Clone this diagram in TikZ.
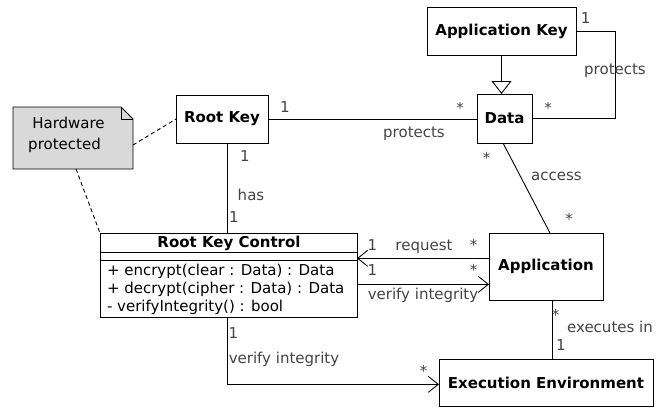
\documentclass[tikz,border=0pt]{standalone}
\usepackage{fontspec}
\setmainfont{DejaVu Sans}
\usetikzlibrary{arrows.meta}
\definecolor{notegray}{HTML}{D9D9D9}
\definecolor{lblcol}{HTML}{444444}
\begin{document}
\begin{tikzpicture}[x=1pt,y=-1pt,
  every node/.style={font=\fontsize{15}{18}\selectfont, inner sep=0pt, outer sep=0pt},
  box/.style={draw, line width=0.9pt, fill=white, font=\fontsize{15}{18}\selectfont\bfseries},
  lbl/.style={anchor=base, text=lblcol},
  ln/.style={line width=0.9pt},
  arr/.style={ln, -{Straight Barb[length=10pt,width=16pt,line width=0.9pt]}},
  gen/.style={ln, -{Triangle[open,length=13pt,width=20pt,fill=white,line width=0.9pt]}},
  dsh/.style={line width=0.9pt, dash pattern=on 4pt off 3pt}
]
\useasboundingbox (0,0) rectangle (662,408);

% boxes
\node[box, minimum width=149pt, minimum height=48pt] (appkey) at (501.5,31) {Application Key};
\node[box, minimum width=55pt, minimum height=49pt] (data) at (504.5,118.5) {Data};
\node[box, minimum width=92pt, minimum height=48pt] (rootkey) at (222,119) {Root Key};
\node[box, minimum width=114pt, minimum height=67pt] (app) at (546,266.5) {Application};
\node[box, minimum width=214pt, minimum height=47pt] (ee) at (546,382.5) {Execution Environment};
\node[box, minimum width=257pt, minimum height=84pt] (rkc) at (228.5,275) {};

% root key control compartments
\draw[ln] ([yshift=-19.3pt]rkc.north west) -- ([yshift=-19.3pt]rkc.north east);
\draw[ln] ([yshift=-27pt]rkc.north west) -- ([yshift=-27pt]rkc.north east);
\node[anchor=base, font=\fontsize{15}{18}\selectfont\bfseries] (rkct) at (229,247) {Root Key Control};
\node[anchor=base west] (m1) at (107,275) {+ encrypt(clear : Data) : Data};
\node[anchor=base west] (m2) at (107,293.3) {+ decrypt(cipher : Data) : Data};
\node[anchor=base west] (m3) at (107,311.7) {- verifyIntegrity() : bool};

% note
\node[minimum width=120pt, minimum height=62pt] (note) at (73,138) {};
\draw[ln, fill=notegray] (note.north west) -- ([xshift=-12pt]note.north east)
  -- ([yshift=-12pt]note.north east) -- (note.south east) -- (note.south west) -- cycle;
\draw[ln] ([xshift=-12pt]note.north east) -- ([xshift=-12pt,yshift=-12pt]note.north east)
  -- ([yshift=-12pt]note.north east);
\node[anchor=base] (nt1) at (68.5,128) {Hardware};
\node[anchor=base] (nt2) at (64.5,149) {protected};

% dashed note links
\draw[dsh] ([yshift=-7pt]note.east) -- (rootkey.west);
\draw[dsh] ([xshift=3pt]note.south) -- (rkc.north west);

% connectors
\draw[gen] (appkey.south) -- (appkey.south |- data.north);
\draw[ln] (appkey.east) -- ++(39,0) |- (data.east);
\draw[ln] (rootkey.east) -- (rootkey.east -| data.west);
\draw[ln] ([xshift=-1.5pt]data.south) -- ([xshift=4pt]app.north);
\draw[ln] ([xshift=-1.5pt]rkc.north |- rootkey.south) -- ([xshift=-1.5pt]rkc.north);
\draw[arr] ([yshift=8.2pt]app.west) -- ([yshift=8.2pt]app.west -| rkc.east);
\draw[arr] ([yshift=-17.8pt]app.west -| rkc.east) -- ([yshift=-17.8pt]app.west);
\draw[arr] ([xshift=-1.5pt]rkc.south) |- ([yshift=-1.8pt]ee.west);
\draw[ln] ([xshift=6.7pt]app.south) -- ([xshift=6.7pt]app.south |- ee.north);

% labels
\node[lbl] (l1) at (585.7,23) {1};
\node[lbl] (l2) at (615,74) {protects};
\node[lbl] (l3) at (548,113) {*};
\node[lbl] (l4) at (285,112) {1};
\node[lbl] (l5) at (460,113) {*};
\node[lbl] (l6) at (414,137) {protects};
\node[lbl] (l7) at (486.7,163) {*};
\node[lbl] (l8) at (556.5,180) {access};
\node[lbl] (l9) at (569,224) {*};
\node[lbl] (l10) at (245,161.5) {1};
\node[lbl] (l11) at (251,200) {has};
\node[lbl] (l12) at (234,222) {1};
\node[lbl] (l13) at (372.5,250) {1};
\node[lbl] (l14) at (424,250) {request};
\node[lbl] (l15) at (473.5,250) {*};
\node[lbl] (l16) at (372.5,275) {1};
\node[lbl] (l17) at (473.5,275) {*};
\node[lbl] (l18) at (423,299) {verify integrity};
\node[lbl] (l19) at (233.5,338) {1};
\node[lbl] (l20) at (284,363) {verify integrity};
\node[lbl] (l21) at (423.5,376) {*};
\node[lbl] (l22) at (555.5,320) {*};
\node[lbl] (l23) at (610,332) {executes in};
\node[lbl] (l24) at (561,350) {1};
\end{tikzpicture}
\end{document}
